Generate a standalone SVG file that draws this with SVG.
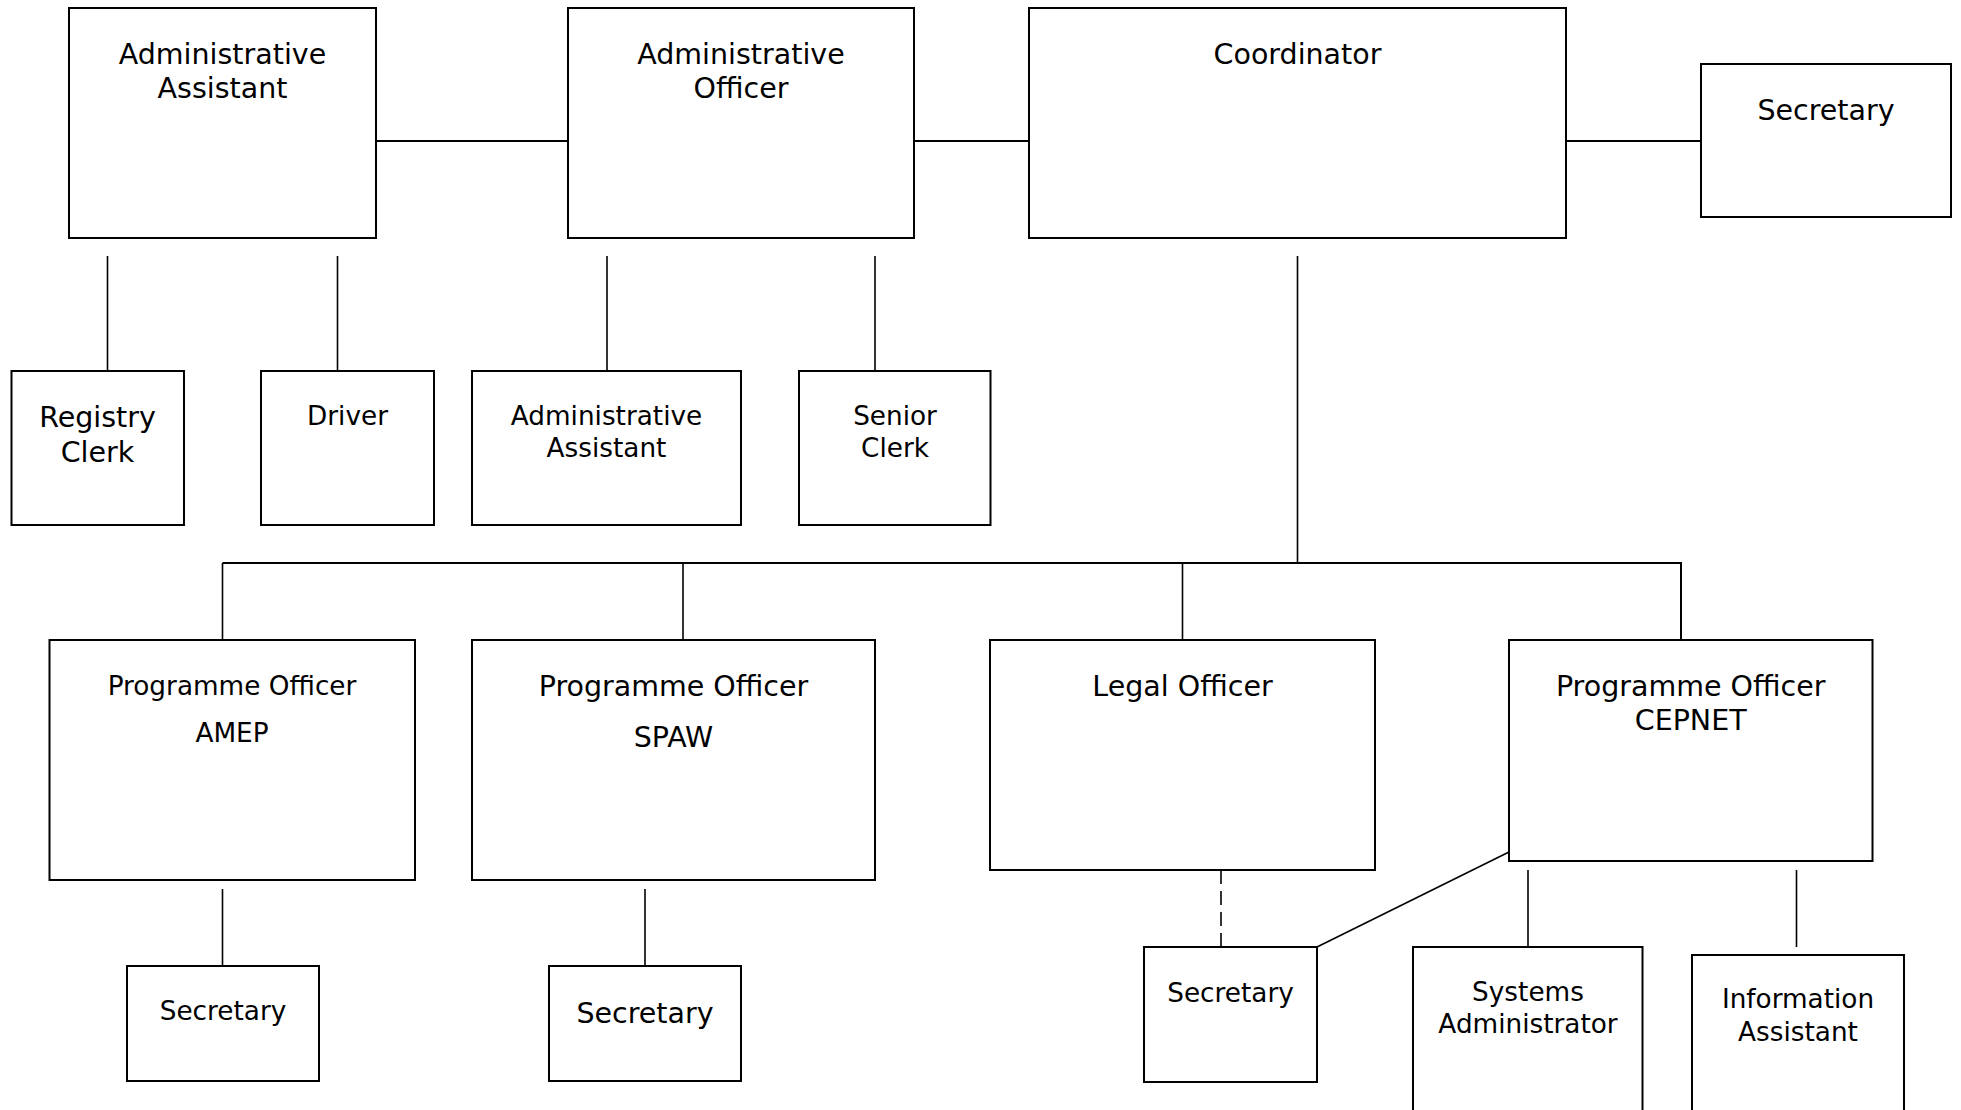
<svg xmlns="http://www.w3.org/2000/svg" width="1961" height="1110" viewBox="0 0 1961 1110">
<style>
  .box { fill: #fff; stroke: #000; stroke-width: 2; }
  .ln { stroke: #000; stroke-width: 1.6; fill: none; }
  .lnh { stroke: #000; stroke-width: 2; fill: none; }
  .dash { stroke: #000; stroke-width: 1.6; fill: none; stroke-dasharray: 14 7; }
  text { font-family: "DejaVu Sans", Verdana, sans-serif; fill: #000; text-anchor: middle; }
  .big { font-size: 28.5px; }
  .sm { font-size: 26.3px; }
</style>
<rect width="1961" height="1110" fill="#fff"/>
<g id="connectors">
  <line class="lnh" x1="376" y1="141" x2="568" y2="141"/>
  <line class="lnh" x1="914" y1="141" x2="1029" y2="141"/>
  <line class="lnh" x1="1566" y1="141" x2="1701" y2="141"/>
  <line class="ln" x1="107.5" y1="256" x2="107.5" y2="371"/>
  <line class="ln" x1="337.5" y1="256" x2="337.5" y2="371"/>
  <line class="ln" x1="607" y1="256" x2="607" y2="371"/>
  <line class="ln" x1="875" y1="256" x2="875" y2="371"/>
  <line class="ln" x1="1297.5" y1="256" x2="1297.5" y2="563"/>
  <line class="lnh" x1="222.5" y1="563" x2="1682" y2="563"/>
  <line class="ln" x1="222.5" y1="563" x2="222.5" y2="640"/>
  <line class="ln" x1="683" y1="563" x2="683" y2="640"/>
  <line class="ln" x1="1182.5" y1="563" x2="1182.5" y2="640"/>
  <line class="lnh" x1="1681" y1="563" x2="1681" y2="640"/>
  <line class="ln" x1="222.5" y1="889" x2="222.5" y2="966"/>
  <line class="ln" x1="645" y1="889" x2="645" y2="966"/>
  <line class="dash" x1="1221" y1="870" x2="1221" y2="947"/>
  <line class="ln" x1="1317" y1="947" x2="1509" y2="852"/>
  <line class="ln" x1="1528" y1="870" x2="1528" y2="947"/>
  <line class="ln" x1="1796.5" y1="870" x2="1796.5" y2="947"/>
</g>
<g id="admin-assistant-top">
  <rect class="box" x="69" y="8" width="307" height="230"/>
  <text class="big" x="222.5" y="64">Administrative</text>
  <text class="big" x="222.5" y="98">Assistant</text>
</g>
<g id="admin-officer">
  <rect class="box" x="568" y="8" width="346" height="230"/>
  <text class="big" x="741" y="64">Administrative</text>
  <text class="big" x="741" y="98">Officer</text>
</g>
<g id="coordinator">
  <rect class="box" x="1029" y="8" width="537" height="230"/>
  <text class="big" x="1297.5" y="64">Coordinator</text>
</g>
<g id="secretary-top">
  <rect class="box" x="1701" y="64" width="250" height="153"/>
  <text class="big" x="1826" y="119.5">Secretary</text>
</g>
<g id="registry-clerk">
  <rect class="box" x="11.5" y="371" width="172.5" height="154"/>
  <text class="big" x="97.5" y="427">Registry</text>
  <text class="big" x="97.5" y="462">Clerk</text>
</g>
<g id="driver">
  <rect class="box" x="261" y="371" width="173" height="154"/>
  <text class="sm" x="347.5" y="425">Driver</text>
</g>
<g id="admin-assistant-2">
  <rect class="box" x="472" y="371" width="269" height="154"/>
  <text class="sm" x="606.5" y="425">Administrative</text>
  <text class="sm" x="606.5" y="457">Assistant</text>
</g>
<g id="senior-clerk">
  <rect class="box" x="799" y="371" width="191.5" height="154"/>
  <text class="sm" x="895" y="425">Senior</text>
  <text class="sm" x="895" y="457">Clerk</text>
</g>
<g id="po-amep">
  <rect class="box" x="49.5" y="640" width="365.5" height="240"/>
  <text class="sm" x="232" y="694.5">Programme Officer</text>
  <text class="sm" x="232" y="742">AMEP</text>
</g>
<g id="po-spaw">
  <rect class="box" x="472" y="640" width="403" height="240"/>
  <text class="big" x="673.5" y="695.5">Programme Officer</text>
  <text class="big" x="673.5" y="746.5">SPAW</text>
</g>
<g id="legal-officer">
  <rect class="box" x="990" y="640" width="385" height="230"/>
  <text class="big" x="1182.5" y="695.5">Legal Officer</text>
</g>
<g id="po-cepnet">
  <rect class="box" x="1509" y="640" width="363.5" height="221"/>
  <text class="big" x="1690.7" y="695.5">Programme Officer</text>
  <text class="big" x="1690.7" y="730">CEPNET</text>
</g>
<g id="secretary-amep">
  <rect class="box" x="127" y="966" width="192" height="115"/>
  <text class="sm" x="223" y="1020">Secretary</text>
</g>
<g id="secretary-spaw">
  <rect class="box" x="549" y="966" width="192" height="115"/>
  <text class="big" x="645" y="1023">Secretary</text>
</g>
<g id="secretary-legal">
  <rect class="box" x="1144" y="947" width="173" height="135"/>
  <text class="sm" x="1230.5" y="1001.5">Secretary</text>
</g>
<g id="systems-administrator">
  <rect class="box" x="1413" y="947" width="229.5" height="180"/>
  <text class="sm" x="1528" y="1001">Systems</text>
  <text class="sm" x="1528" y="1033">Administrator</text>
</g>
<g id="information-assistant">
  <rect class="box" x="1692" y="955" width="212" height="175"/>
  <text class="sm" x="1798" y="1008">Information</text>
  <text class="sm" x="1798" y="1041">Assistant</text>
</g>
</svg>
